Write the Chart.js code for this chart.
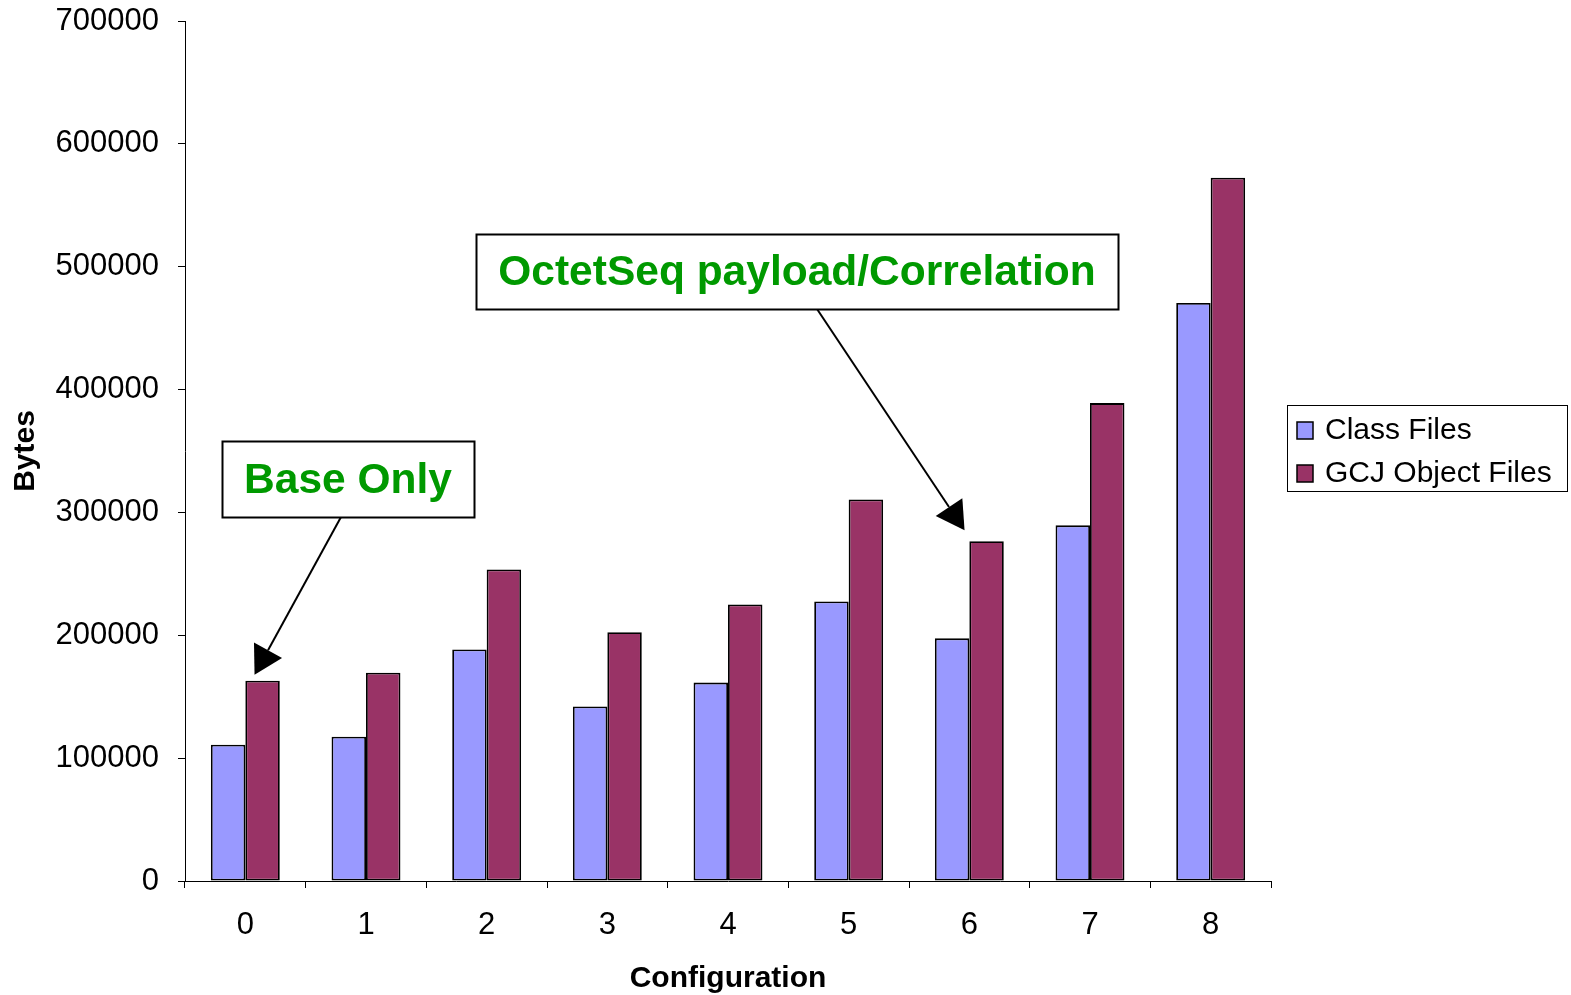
<!DOCTYPE html>
<html>
<head>
<meta charset="utf-8">
<script src="https://cdn.jsdelivr.net/npm/chart.js@4/dist/chart.umd.min.js"></script>
<style>
  html, body { margin: 0; padding: 0; background: #fff; }
</style>
</head>
<body>
<canvas id="chart" width="1571" height="995"></canvas>
<script>
// data
var configurations = ['0', '1', '2', '3', '4', '5', '6', '7', '8'];
var classFiles = [111000, 117500, 188500, 142000, 161500, 227500, 197500, 289500, 470500];
var gcjObjectFiles = [163000, 169500, 253500, 202500, 225000, 310500, 276500, 389000, 572500];
var yTicks = [0, 100000, 200000, 300000, 400000, 500000, 600000, 700000];
var seriesNames = ['Class Files', 'GCJ Object Files'];

var FONT = '"Liberation Sans", Arial, sans-serif';

// callout boxes, arrows point at a bar (dataset, index)
var callouts = [
    { text: 'Base Only', box: [222, 441, 252, 76], from: [341, 517], dataset: 1, index: 0, tip: [-8, -6] },
    { text: 'OctetSeq payload/Correlation', box: [476, 234, 642, 75], from: [817, 309], dataset: 1, index: 6, tip: [-22, -11] }
];

function drawArrow(ctx, x1, y1, x2, y2) {
    var dx = x2 - x1, dy = y2 - y1;
    var len = Math.sqrt(dx * dx + dy * dy);
    var ux = dx / len, uy = dy / len;
    var headLen = 28, headW = 16;
    var bx = x2 - ux * headLen, by = y2 - uy * headLen;
    ctx.beginPath();
    ctx.moveTo(x1, y1);
    ctx.lineTo(bx, by);
    ctx.strokeStyle = '#000';
    ctx.lineWidth = 2;
    ctx.stroke();
    ctx.beginPath();
    ctx.moveTo(x2, y2);
    ctx.lineTo(bx - uy * headW, by + ux * headW);
    ctx.lineTo(bx + uy * headW, by - ux * headW);
    ctx.closePath();
    ctx.fillStyle = '#000';
    ctx.fill();
}

var extrasPlugin = {
    id: 'extras',
    afterDraw: function(chart) {
        var ctx = chart.ctx;
        ctx.save();

        // callouts
        callouts.forEach(function(c) {
            var bar = chart.getDatasetMeta(c.dataset).data[c.index];
            drawArrow(ctx, c.from[0], c.from[1], bar.x + c.tip[0], bar.y + c.tip[1]);
            ctx.fillStyle = '#fff';
            ctx.fillRect(c.box[0], c.box[1], c.box[2], c.box[3]);
            ctx.strokeStyle = '#000';
            ctx.lineWidth = 2;
            ctx.strokeRect(c.box[0] + 0.5, c.box[1] + 0.5, c.box[2], c.box[3]);
            ctx.fillStyle = '#009900';
            ctx.font = 'bold 42.5px ' + FONT;
            ctx.textAlign = 'center';
            ctx.textBaseline = 'middle';
            ctx.fillText(c.text, c.box[0] + c.box[2] / 2, c.box[1] + c.box[3] / 2 + 2);
        });

        // legend
        ctx.strokeStyle = '#000';
        ctx.lineWidth = 1;
        ctx.strokeRect(1287.5, 405.5, 280, 86);
        ctx.font = '30px ' + FONT;
        ctx.textAlign = 'left';
        ctx.textBaseline = 'middle';
        chart.data.datasets.forEach(function(ds, i) {
            var y = 430 + i * 43;
            ctx.fillStyle = ds.backgroundColor;
            ctx.fillRect(1297, y - 8, 16, 17);
            ctx.lineWidth = 1.5;
            ctx.strokeRect(1297, y - 8, 16, 17);
            ctx.fillStyle = '#000';
            ctx.fillText(ds.label, 1325, y + 1);
        });
        ctx.restore();
    }
};

var ctx = document.getElementById('chart').getContext('2d');
var chart = new Chart(ctx, {
    type: 'bar',
    data: {
        labels: configurations,
        datasets: [{
            label: seriesNames[0],
            data: classFiles,
            backgroundColor: '#9999ff',
            borderColor: '#000',
            borderWidth: 1.8,
            borderSkipped: false
        }, {
            label: seriesNames[1],
            data: gcjObjectFiles,
            backgroundColor: '#993366',
            borderColor: '#000',
            borderWidth: 1.8,
            borderSkipped: false
        }]
    },
    options: {
        responsive: false,
        devicePixelRatio: 1,
        animation: false,
        layout: { padding: { top: 21, right: 300, bottom: 0, left: 0 } },
        datasets: { bar: { categoryPercentage: 0.571, barPercentage: 1 } },
        plugins: {
            legend: { display: false },
            tooltip: { enabled: false }
        },
        scales: {
            x: {
                grid: { display: true, drawOnChartArea: false, drawTicks: true, tickLength: 7, color: '#000', offset: true },
                border: { display: true, color: '#000', width: 1 },
                ticks: { color: '#000', font: { family: FONT, size: 31 }, padding: 19, maxRotation: 0 },
                title: { display: true, text: 'Configuration', color: '#000', font: { family: FONT, size: 30, weight: 'bold' }, padding: { top: 0, bottom: -2 } },
                afterFit: function(scale) {
                    scale.height = 114;
                    scale.paddingLeft = 0;
                    scale.paddingRight = 0;
                }
            },
            y: {
                min: 0,
                max: 700000,
                afterBuildTicks: function(scale) {
                    scale.ticks = yTicks.map(function(v) { return { value: v }; });
                },
                grid: { display: true, drawOnChartArea: false, drawTicks: true, tickLength: 7, color: '#000' },
                border: { display: true, color: '#000', width: 1 },
                ticks: { color: '#000', font: { family: FONT, size: 31 }, padding: 19, callback: function(v) { return String(v); } },
                title: { display: true, text: 'Bytes', color: '#000', font: { family: FONT, size: 30, weight: 'bold' }, padding: { top: 8, bottom: 0 } },
                afterFit: function(scale) {
                    scale.width = 185;
                    scale.paddingTop = 0;
                    scale.paddingBottom = 0;
                }
            }
        }
    },
    plugins: [extrasPlugin]
});
</script>
</body>
</html>
